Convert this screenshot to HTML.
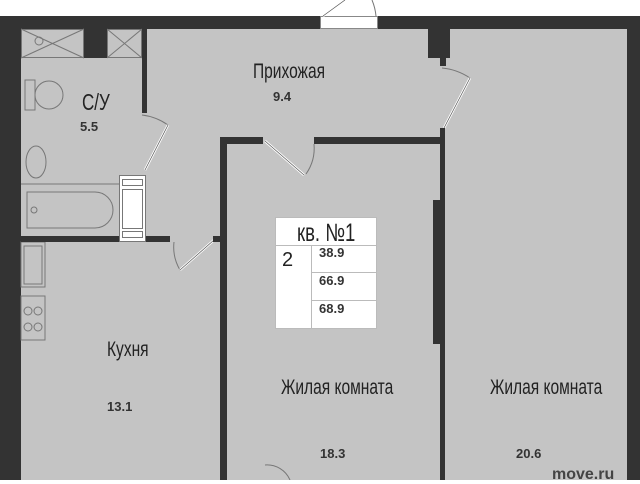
<!DOCTYPE html>
<html><head><meta charset="utf-8"><style>
body{margin:0;width:640px;height:480px;overflow:hidden;background:#fff;position:relative;font-family:"Liberation Sans",sans-serif}
div{position:absolute;box-sizing:border-box}
.w{background:#333}
.t{color:#222;white-space:nowrap}
.c{transform:scaleX(0.74);transform-origin:left top;font-size:21px}
.n{font-size:13px;font-weight:bold;color:#333}
</style></head><body>
<div style="left:0;top:16px;width:640px;height:464px;background:#c4c4c4"></div>
<div class="w" style="left:0;top:16px;width:320px;height:13px"></div>
<div style="left:320px;top:16px;width:58px;height:13px;background:#fff;border:1px solid #888"></div>
<div class="w" style="left:378px;top:16px;width:262px;height:13px"></div>
<div class="w" style="left:0;top:16px;width:21px;height:464px"></div>
<div class="w" style="left:627px;top:16px;width:13px;height:464px"></div>
<div style="left:21px;top:29px;width:63px;height:29px;border:1px solid #777"></div>
<div style="left:107px;top:29px;width:35px;height:29px;border:1px solid #777"></div>
<svg style="position:absolute;left:0;top:0" width="640" height="480">
<g stroke="#777" stroke-width="1" fill="none">
<line x1="21" y1="29" x2="84" y2="58"/><line x1="84" y1="29" x2="21" y2="58"/>
<line x1="107" y1="29" x2="142" y2="58"/><line x1="142" y1="29" x2="107" y2="58"/>
<circle cx="39" cy="41" r="4"/>
<rect x="25" y="80" width="10" height="30"/><circle cx="49" cy="95" r="14"/>
<ellipse cx="36" cy="162" rx="10" ry="16"/>
<line x1="21" y1="184" x2="119" y2="184"/>
<path d="M27 192 H95 A18 18 0 0 1 95 228 H27 Z"/>
<circle cx="34" cy="210" r="3"/>
<rect x="21" y="242" width="24" height="45"/><rect x="24" y="246" width="18" height="38"/>
<rect x="21" y="296" width="24" height="44"/>
<circle cx="28" cy="311" r="4"/><circle cx="38" cy="311" r="4"/><circle cx="28" cy="327" r="4"/><circle cx="38" cy="327" r="4"/>
<path d="M142 115 A57 57 0 0 1 168 125"/>
<path d="M174 242 A45 45 0 0 0 180 270"/>
<path d="M442 68 A60 60 0 0 1 470 78"/>
<path d="M314 144 A45 45 0 0 1 306 174"/>
<path d="M265 465 A25 25 0 0 1 290 480"/>
<path d="M376 16 A55 55 0 0 0 372 0"/>
</g>
<g stroke="#fff" stroke-width="2.5"><line x1="145" y1="170" x2="168" y2="125"/><line x1="180" y1="270" x2="214" y2="240"/>
<line x1="444" y1="128" x2="470" y2="78"/><line x1="265" y1="141" x2="304" y2="175"/><line x1="323" y1="16" x2="345" y2="0"/></g>
<g stroke="#555" stroke-width="0.7"><line x1="145" y1="170" x2="168" y2="125"/><line x1="180" y1="270" x2="214" y2="240"/>
<line x1="444" y1="128" x2="470" y2="78"/><line x1="265" y1="141" x2="304" y2="175"/><line x1="323" y1="16" x2="345" y2="0"/></g>
</svg>
<div class="w" style="left:84px;top:29px;width:23px;height:29px"></div>
<div class="w" style="left:142px;top:29px;width:5px;height:84px"></div>
<div class="w" style="left:428px;top:29px;width:22px;height:29px"></div>
<div class="w" style="left:440px;top:58px;width:6px;height:8px"></div>
<div style="left:119px;top:175px;width:27px;height:67px;background:#fff;border:1px solid #777"></div>
<div style="left:122px;top:179px;width:21px;height:7px;border:1px solid #777"></div>
<div style="left:122px;top:189px;width:21px;height:40px;border:1px solid #777"></div>
<div style="left:122px;top:231px;width:21px;height:7px;border:1px solid #777"></div>
<div class="w" style="left:21px;top:236px;width:98px;height:6px"></div>
<div class="w" style="left:146px;top:236px;width:24px;height:6px"></div>
<div class="w" style="left:213px;top:236px;width:7px;height:6px"></div>
<div class="w" style="left:220px;top:137px;width:7px;height:343px"></div>
<div class="w" style="left:220px;top:137px;width:43px;height:7px"></div>
<div class="w" style="left:314px;top:137px;width:129px;height:7px"></div>
<div class="w" style="left:440px;top:128px;width:5px;height:352px"></div>
<div class="w" style="left:433px;top:200px;width:12px;height:144px"></div>
<div style="left:275px;top:217px;width:102px;height:112px;background:#fff;border:1px solid #bbb"></div>
<div style="left:275px;top:245px;width:102px;height:1px;background:#bbb"></div>
<div style="left:311px;top:245px;width:1px;height:84px;background:#bbb"></div>
<div style="left:311px;top:272px;width:66px;height:1px;background:#bbb"></div>
<div style="left:311px;top:300px;width:66px;height:1px;background:#bbb"></div>
<div class="t c" style="left:297px;top:219px;font-size:25px">кв. №1</div>
<div class="t" style="left:282px;top:249px;font-size:20px">2</div>
<div class="t n" style="left:319px;top:245px">38.9</div>
<div class="t n" style="left:319px;top:273px">66.9</div>
<div class="t n" style="left:319px;top:301px">68.9</div>
<div class="t c" style="left:82px;top:89px;font-size:23px">С/У</div>
<div class="t n" style="left:80px;top:119px">5.5</div>
<div class="t c" style="left:253px;top:60px">Прихожая</div>
<div class="t n" style="left:273px;top:89px">9.4</div>
<div class="t c" style="left:107px;top:338px">Кухня</div>
<div class="t n" style="left:107px;top:399px">13.1</div>
<div class="t c" style="left:281px;top:376px">Жилая комната</div>
<div class="t n" style="left:320px;top:446px">18.3</div>
<div class="t c" style="left:490px;top:376px">Жилая комната</div>
<div class="t n" style="left:516px;top:446px">20.6</div>
<div class="t" style="left:552px;top:466px;font-size:16px;font-weight:bold;color:#444">move.ru</div>
</body></html>
